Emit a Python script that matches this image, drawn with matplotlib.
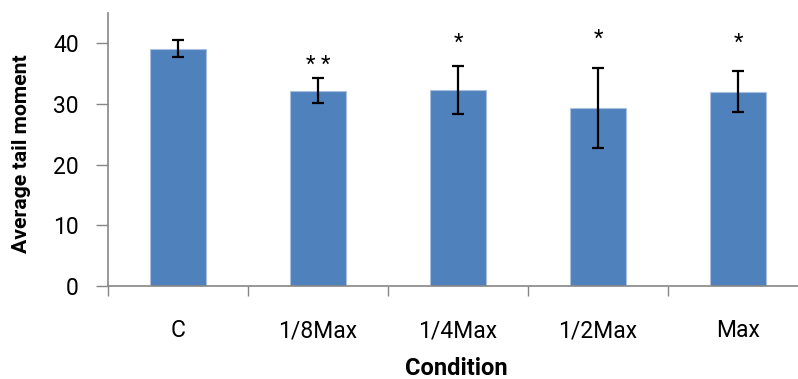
import matplotlib.pyplot as plt
import numpy as np

conditions = ["C", "1/8Max", "1/4Max", "1/2Max", "Max"]
means = [39.1, 32.2, 32.3, 29.4, 32.0]
errors = [1.4, 2.0, 4.0, 6.6, 3.4]
stars = ["", "* *", "*", "*", "*"]
star_y = [0, 36.4, 40.0, 40.6, 40.0]

plt.rcParams['font.family'] = ['Roboto', 'DejaVu Sans']

fig = plt.figure(figsize=(7.98, 3.79), dpi=100)
ax = fig.add_axes([108 / 798, 1 - 285.7 / 379, 700 / 798, (285.7 - 13) / 379])

x = np.arange(len(conditions))
ax.bar(x, means, width=0.4, color='#4F81BD', edgecolor='#A9C0E0', linewidth=0.8, zorder=2)
ax.errorbar(x, means, yerr=errors, fmt='none', ecolor='black', elinewidth=1.6,
            capsize=4.3, capthick=1.6, zorder=3)

for xi, s, sy in zip(x, stars, star_y):
    if s:
        ax.text(xi, sy, s, ha='center', va='center', fontsize=16)

ax.set_xlim(-0.5, len(conditions) - 0.5)
ax.set_ylim(0, 45)
ax.set_yticks([0, 10, 20, 30, 40])
ax.tick_params(axis='y', labelsize=16.5, length=9, width=1, color='#868686', pad=12)

ax.set_xticks(np.arange(len(conditions) + 1) - 0.5)
ax.set_xticklabels([])
ax.set_xticks(x, minor=True)
ax.set_xticklabels(conditions, minor=True)
ax.tick_params(axis='x', which='major', length=7, width=1, color='#868686')
ax.tick_params(axis='x', which='minor', length=0, labelsize=16.5, pad=24)

for side in ['top', 'right']:
    ax.spines[side].set_visible(False)
for side in ['left', 'bottom']:
    ax.spines[side].set_color('#868686')
    ax.spines[side].set_linewidth(1.2)

fig.text(22 / 798, 1 - 154 / 379, 'Average tail moment', fontsize=15.3, fontweight='bold',
         rotation=90, ha='center', va='center')
fig.text(456 / 798, 1 - 375 / 379, 'Condition', fontsize=17, fontweight='bold',
         ha='center', va='baseline')

fig.savefig('out.png', dpi=100)
